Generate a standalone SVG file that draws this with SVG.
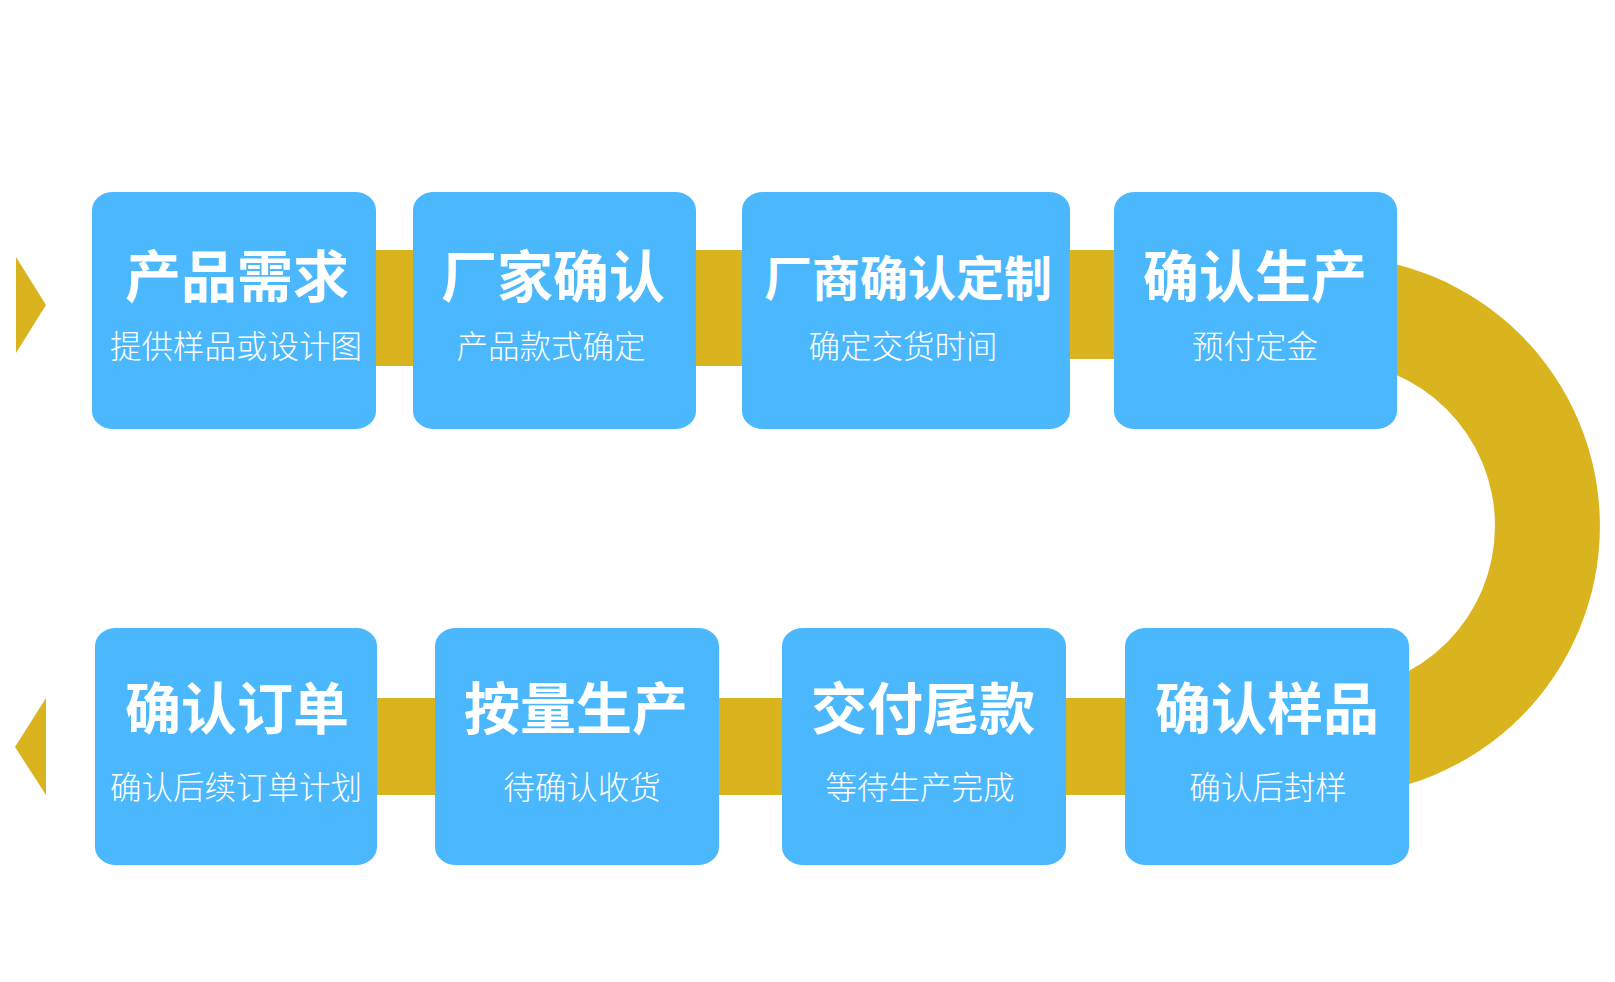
<svg xmlns="http://www.w3.org/2000/svg" width="1615" height="982" viewBox="0 0 1615 982">
<style>
.box{fill:#4BB8FE;}
.band{fill:#DAB41E;}
.t{font-family:"Microsoft YaHei","Noto Sans CJK SC","Noto Sans",sans-serif;font-weight:700;fill:#FFFFFF;text-anchor:middle;}
.s{font-family:"Microsoft YaHei","Noto Sans CJK SC","Noto Sans",sans-serif;font-weight:300;fill:#FFFFFF;text-anchor:middle;font-size:31.5px;}
</style>
<rect width="1615" height="982" fill="#FFFFFF"/>
<g id="connectors">
  <polygon class="band" points="16,257 46,305 16,353"/>
  <rect class="band" x="360" y="250" width="400" height="116"/>
  <rect class="band" x="1060" y="250" width="60" height="109"/>
  <path class="band" d="M 1330 256 A 270 270 0 0 1 1330 796 L 1330 691 A 165 165 0 0 0 1330 361 Z"/>
  <rect class="band" x="365" y="698" width="775" height="97"/>
  <polygon class="band" points="46,698 15,747 46,795"/>
</g>
<g id="n1">
  <rect class="box" x="92" y="192" width="284" height="237" rx="21" ry="18"/>
  <text class="t" x="237" y="297" font-size="56">产品需求</text>
  <text class="s" x="236" y="358">提供样品或设计图</text>
</g>
<g id="n2">
  <rect class="box" x="413" y="192" width="283" height="237" rx="21" ry="18"/>
  <text class="t" x="553" y="297" font-size="56">厂家确认</text>
  <text class="s" x="551" y="358">产品款式确定</text>
</g>
<g id="n3">
  <rect class="box" x="742" y="192" width="328" height="237" rx="21" ry="18"/>
  <text class="t" x="908" y="296" font-size="48">厂商确认定制</text>
  <text class="s" x="903" y="358">确定交货时间</text>
</g>
<g id="n4">
  <rect class="box" x="1114" y="192" width="283" height="237" rx="21" ry="18"/>
  <text class="t" x="1255" y="297" font-size="56">确认生产</text>
  <text class="s" x="1255" y="358">预付定金</text>
</g>
<g id="n5">
  <rect class="box" x="95" y="628" width="282" height="237" rx="21" ry="18"/>
  <text class="t" x="237" y="729" font-size="56">确认订单</text>
  <text class="s" x="236" y="799">确认后续订单计划</text>
</g>
<g id="n6">
  <rect class="box" x="435" y="628" width="284" height="237" rx="21" ry="18"/>
  <text class="t" x="576" y="729" font-size="56">按量生产</text>
  <text class="s" x="582" y="799">待确认收货</text>
</g>
<g id="n7">
  <rect class="box" x="782" y="628" width="284" height="237" rx="21" ry="18"/>
  <text class="t" x="923" y="729" font-size="56">交付尾款</text>
  <text class="s" x="920" y="799">等待生产完成</text>
</g>
<g id="n8">
  <rect class="box" x="1125" y="628" width="284" height="237" rx="21" ry="18"/>
  <text class="t" x="1267" y="729" font-size="56">确认样品</text>
  <text class="s" x="1268" y="799">确认后封样</text>
</g>
</svg>
